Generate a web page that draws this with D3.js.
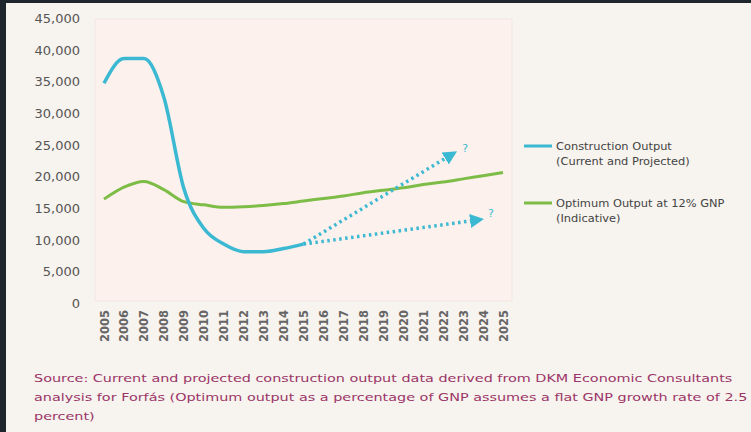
<!DOCTYPE html>
<html>
<head>
<meta charset="utf-8">
<script src="https://cdn.jsdelivr.net/npm/d3@7"></script>
<style>
  body { margin: 0; background: #1f252d; }
  svg { display: block; }
</style>
</head>
<body>
<svg id="chart" width="751" height="432"></svg>
<script>
// years on the x axis
const years = d3.range(2005, 2026).map(String);

// construction output, actual (2005-2015)
const constructionYears = ['2005','2006','2007','2008','2009','2010','2011','2012','2013','2014','2015'];
const constructionValues = [34700, 38600, 38600, 32500, 18100, 11800, 9300, 8100, 8100, 8600, 9300];

// optimum output at 12% GNP (indicative)
const optimumValues = [16400, 18300, 19200, 17900, 16000, 15500, 15100, 15200, 15400, 15700, 16100,
  16500, 16900, 17400, 17800, 18200, 18700, 19100, 19600, 20100, 20600];

// projected scenarios: start index/value, end index/value
const projections = [
  {from: 10, v0: 9300, to: 17.4, v1: 23400},
  {from: 10, v0: 9300, to: 18.7, v1: 13100}
];

const yTicks = [0, 5000, 10000, 15000, 20000, 25000, 30000, 35000, 40000, 45000];

const legendItems = [
  {color: '#3cb9d2', lines: ['Construction Output', '(Current and Projected)']},
  {color: '#7dbd47', lines: ['Optimum Output at 12% GNP', '(Indicative)']}
];

const sourceLines = [
  'Source: Current and projected construction output data derived from DKM Economic Consultants',
  'analysis for Forfás (Optimum output as a percentage of GNP assumes a flat GNP growth rate of 2.5',
  'percent)'
];

const svg = d3.select('#chart');
const font = '"DejaVu Sans", sans-serif';

// page background (dark frame top and left)
svg.append('rect').attr('x', 6).attr('y', 3).attr('width', 745).attr('height', 429).attr('fill', '#f7f3ee');

const x = d3.scalePoint().domain(years).range([104, 503]);
const xi = d3.scaleLinear().domain([0, 20]).range([104, 503]);
const y = d3.scaleLinear().domain([0, 45000]).range([303, 18]);

// plot area
svg.append('rect').attr('x', 95).attr('y', 19).attr('width', 417).attr('height', 282)
  .attr('fill', '#fcf1ec').attr('stroke', '#f2e8e2');

// y axis
const yAxis = svg.append('g').attr('transform', 'translate(83,0)')
  .call(d3.axisLeft(y).tickValues(yTicks).tickSize(0).tickFormat(d3.format(',')));
yAxis.select('.domain').remove();
yAxis.selectAll('text').attr('fill', '#555').attr('font-size', 13).attr('font-family', font)
  .attr('dy', '0.35em');

// x axis
const xAxis = svg.append('g').attr('transform', 'translate(0,310)')
  .call(d3.axisBottom(x).tickSize(0));
xAxis.select('.domain').remove();
xAxis.selectAll('text')
  .attr('fill', '#666').attr('font-size', 11.5).attr('font-family', font).attr('font-weight', 'bold')
  .attr('transform', 'rotate(-90)')
  .attr('text-anchor', 'end').attr('x', 0).attr('y', 0).attr('dx', 0).attr('dy', '0.35em');

// optimum line
svg.append('path')
  .attr('d', d3.line().curve(d3.curveMonotoneX)(years.map((yr, i) => [x(yr), y(optimumValues[i])])))
  .attr('fill', 'none').attr('stroke', '#7dbd47').attr('stroke-width', 3);

// construction line
svg.append('path')
  .attr('d', d3.line().curve(d3.curveMonotoneX)(constructionYears.map((yr, i) => [x(yr), y(constructionValues[i])])))
  .attr('fill', 'none').attr('stroke', '#3cb9d2').attr('stroke-width', 3.5);

// arrowhead
svg.append('defs').append('marker')
  .attr('id', 'arrow').attr('viewBox', '0 0 10 10').attr('refX', 5).attr('refY', 5)
  .attr('markerWidth', 4).attr('markerHeight', 4).attr('orient', 'auto')
  .append('path').attr('d', 'M0,0 L10,5 L0,10 z').attr('fill', '#3cb9d2');

projections.forEach(p => {
  const x0 = xi(p.from), y0 = y(p.v0), x1 = xi(p.to), y1 = y(p.v1);
  svg.append('line')
    .attr('x1', x0).attr('y1', y0).attr('x2', x1).attr('y2', y1)
    .attr('stroke', '#3cb9d2').attr('stroke-width', 3.5).attr('stroke-dasharray', '2.5,3.5')
    .attr('marker-end', 'url(#arrow)');
  svg.append('text').attr('x', x1 + 11).attr('y', y1 - 3).text('?')
    .attr('fill', '#3cb9d2').attr('font-size', 11).attr('font-family', font);
});

// legend (glyphs stretched sideways a bit, like the original)
const leg = svg.append('g');
legendItems.forEach((item, i) => {
  const ly = 146 + i * 57;
  leg.append('line').attr('x1', 524).attr('x2', 552).attr('y1', ly).attr('y2', ly)
    .attr('stroke', item.color).attr('stroke-width', 3);
  const g = leg.append('g').attr('class', 'lt').attr('transform', `translate(556,0)`);
  item.lines.forEach((t, j) => {
    g.append('text').attr('x', 0).attr('y', ly + 4 + j * 15).text(t)
      .attr('fill', '#444').attr('font-size', 10.5).attr('font-family', font);
  });
});
const lw = leg.select('.lt text').node().getComputedTextLength();
leg.selectAll('.lt').attr('transform', `translate(556,0) scale(${116 / lw},1)`);

// source note, stretched so the first line spans the same width as the original
const src = svg.append('g');
sourceLines.forEach((t, i) => {
  src.append('text').attr('x', 0).attr('y', 382 + i * 19).text(t)
    .attr('fill', '#9b3568').attr('font-size', 11).attr('font-family', font);
});
const w0 = src.select('text').node().getComputedTextLength();
const w1 = src.selectAll('text').nodes()[1].getComputedTextLength();
const sx = Math.min(707 / w0, 714 / w1);
src.attr('transform', `translate(34,0) scale(${sx},1)`);
</script>
</body>
</html>
